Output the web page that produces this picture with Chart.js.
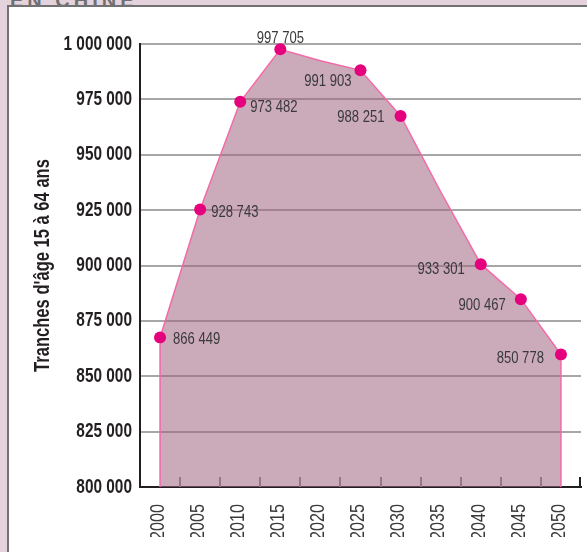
<!DOCTYPE html>
<html>
<head>
<meta charset="utf-8">
<script src="https://cdn.jsdelivr.net/npm/chart.js@4.4.0/dist/chart.umd.min.js"></script>
<style>
  html, body { margin: 0; padding: 0; }
  body { width: 587px; height: 552px; overflow: hidden; background: #e4d3dc; position: relative; }
  #heading { position: absolute; left: 10px; top: -11px; line-height: 20px; font: bold 20px 'Liberation Sans', sans-serif; letter-spacing: 4px; color: #6f6f6f; }
  #panel { position: absolute; left: 7px; top: 5px; width: 600px; height: 560px; background: #fff; border-left: 2px solid #717171; border-top: 2px solid #717171; }
  #chart { position: absolute; left: 0; top: 0; }
</style>
</head>
<body>
<div id="heading">EN CHINE</div>
<div id="panel"></div>
<canvas id="chart" width="587" height="552"></canvas>
<script>
// Population aged 15-64 (China)
const years = [2000, 2005, 2010, 2015, 2020, 2025, 2030, 2035, 2040, 2045, 2050];
const population = [867500, 925300, 973900, 997600, 992400, 988100, 967500, 933300, 900600, 884800, 859800];
// printed figures next to the dots (none at 2020 and 2035)
const valueLabels = ['866 449', '928 743', '973 482', '997 705', null, '991 903', '988 251', null, '933 301', '900 467', '850 778'];
const yTicks = [800000, 825000, 850000, 875000, 900000, 925000, 950000, 975000, 1000000];

const fontFamily = "'Liberation Sans', Arial, sans-serif";

// where each printed figure sits relative to its dot: [textAlign, dx, dy]
const labelPlacement = [
    ['left', 13, 2], ['left', 11, 3], ['left', 10, 6], ['center', 0, -11], null,
    ['right', -9, 11], ['right', -16, 1], null, ['right', -16, 5], ['right', -15, 6], ['right', -17, 4]
];

function spaced(v) {
    return String(v).replace(/\B(?=(\d{3})+(?!\d))/g, ' ');
}

// no condensed face is installed, so squeeze every text along its baseline
const squeeze = 0.77;
const canvas = document.getElementById('chart');
const ctx2d = canvas.getContext('2d');
const plainFillText = ctx2d.fillText;
ctx2d.fillText = function (text, x, y) {
    this.save();
    this.translate(x, y);
    this.scale(squeeze, 1);
    plainFillText.call(this, text, 0, 0);
    this.restore();
};

const decorations = {
    id: 'decorations',
    beforeDatasetsDraw(chart) {
        // short ticks standing on the x axis, between the years
        const {ctx, chartArea, scales: {x}} = chart;
        ctx.save();
        ctx.lineWidth = 2;
        ctx.strokeStyle = '#8c8c8c';
        for (let i = 1; i < years.length; i++) {
            const px = Math.round(x.getPixelForValue((years[i - 1] + years[i]) / 2));
            ctx.beginPath();
            ctx.moveTo(px, chartArea.bottom);
            ctx.lineTo(px, chartArea.bottom - 10);
            ctx.stroke();
        }
        const endX = x.getPixelForValue(x.max) - 1;
        ctx.strokeStyle = '#231f20';
        ctx.beginPath();
        ctx.moveTo(endX, chartArea.bottom);
        ctx.lineTo(endX, chartArea.bottom - 10);
        ctx.stroke();
        ctx.restore();
    },
    afterDatasetsDraw(chart) {
        const {ctx, chartArea} = chart;
        const pts = chart.getDatasetMeta(0).data;
        ctx.save();
        // close the area on both sides with the line colour
        ctx.strokeStyle = '#f36aa8';
        ctx.lineWidth = 1.5;
        [pts[0], pts[pts.length - 1]].forEach(p => {
            ctx.beginPath();
            ctx.moveTo(p.x, p.y + 6);
            ctx.lineTo(p.x, chartArea.bottom);
            ctx.stroke();
        });
        // value figures
        ctx.font = '17px ' + fontFamily;
        ctx.fillStyle = '#3a3a3a';
        ctx.textBaseline = 'middle';
        pts.forEach((p, i) => {
            const place = labelPlacement[i];
            if (!valueLabels[i] || !place) return;
            ctx.textAlign = place[0];
            ctx.fillText(valueLabels[i], p.x + place[1], p.y + place[2]);
        });
        ctx.restore();
    }
};

new Chart(canvas, {
    type: 'line',
    data: {
        datasets: [{
            data: years.map((yr, i) => ({x: yr, y: population[i]})),
            borderColor: '#f36aa8',
            borderWidth: 1.5,
            backgroundColor: 'rgba(160, 100, 130, 0.55)',
            fill: 'start',
            tension: 0,
            pointRadius: valueLabels.map(l => l ? 6 : 0),
            pointBackgroundColor: '#e5007e',
            pointBorderWidth: 0,
            clip: false
        }]
    },
    options: {
        responsive: false,
        animation: false,
        events: [],
        layout: {
            autoPadding: false,
            padding: {left: 20, top: 44, right: 6, bottom: 15}
        },
        plugins: {
            legend: {display: false},
            tooltip: {enabled: false}
        },
        scales: {
            x: {
                type: 'linear',
                min: 1997.5,
                max: 2052.5,
                afterBuildTicks: axis => { axis.ticks = years.map(v => ({value: v})); },
                afterFit: axis => {
                    axis.height = 50;
                    axis.paddingLeft = 0;
                    axis.paddingRight = 0;
                },
                grid: {display: false},
                border: {display: true, color: '#231f20', width: 2},
                ticks: {
                    minRotation: 90,
                    maxRotation: 90,
                    padding: 9,
                    labelOffset: -2,
                    color: '#3a3a3a',
                    font: {family: fontFamily, size: 21},
                    callback: v => String(v)
                }
            },
            y: {
                min: 800000,
                max: 1000000,
                afterBuildTicks: axis => { axis.ticks = yTicks.map(v => ({value: v})); },
                afterFit: axis => {
                    axis.width = 120;
                    axis.paddingTop = 0;
                    axis.paddingBottom = 0;
                },
                grid: {
                    color: ctx => (ctx.tick && ctx.tick.value === 800000) ? 'rgba(0,0,0,0)' : '#a7a7a7',
                    lineWidth: 2,
                    drawTicks: false
                },
                border: {color: '#231f20', width: 2},
                ticks: {
                    padding: 8,
                    color: '#231f20',
                    font: {family: fontFamily, size: 20, weight: 'bold'},
                    callback: v => spaced(v)
                },
                title: {
                    display: true,
                    text: "Tranches d'âge 15 à 64 ans",
                    color: '#231f20',
                    font: {family: fontFamily, size: 21.5, weight: 'bold'},
                    padding: {top: 10, bottom: 0}
                }
            }
        }
    },
    plugins: [decorations]
});
</script>
</body>
</html>
